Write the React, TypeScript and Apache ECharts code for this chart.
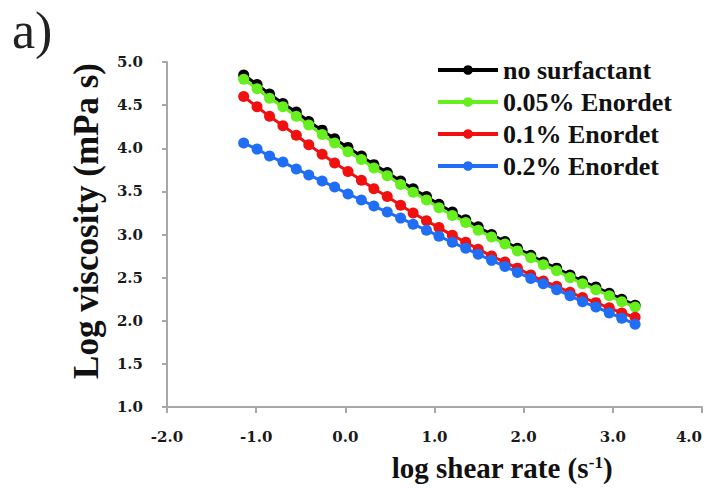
import React, { useEffect, useRef } from "react";
import * as echarts from "echarts";

const seriesNames = ["no surfactant", "0.05% Enordet", "0.1% Enordet", "0.2% Enordet"];
const seriesColors = ["#000000", "#66EE1E", "#F01010", "#1F6EF5"];

const xValues = [-1.14, -0.99, -0.85, -0.70, -0.55, -0.41, -0.26, -0.12, 0.03, 0.18, 0.32, 0.47, 0.62, 0.76, 0.91, 1.05, 1.20, 1.35, 1.49, 1.64, 1.79, 1.93, 2.08, 2.22, 2.37, 2.52, 2.66, 2.81, 2.96, 3.10, 3.25];

const noSurfactant = [4.85, 4.74, 4.63, 4.52, 4.42, 4.31, 4.21, 4.11, 4.01, 3.91, 3.81, 3.72, 3.62, 3.53, 3.44, 3.35, 3.26, 3.17, 3.09, 3.00, 2.92, 2.84, 2.76, 2.68, 2.61, 2.53, 2.46, 2.39, 2.32, 2.25, 2.18];
const enordet005 = [4.80, 4.69, 4.58, 4.48, 4.37, 4.27, 4.16, 4.06, 3.96, 3.87, 3.77, 3.68, 3.58, 3.49, 3.40, 3.31, 3.22, 3.14, 3.05, 2.97, 2.89, 2.81, 2.73, 2.65, 2.58, 2.50, 2.43, 2.36, 2.29, 2.22, 2.16];
const enordet01 = [4.60, 4.48, 4.37, 4.26, 4.15, 4.04, 3.93, 3.83, 3.73, 3.63, 3.53, 3.44, 3.34, 3.25, 3.16, 3.08, 2.99, 2.91, 2.83, 2.75, 2.68, 2.61, 2.53, 2.46, 2.40, 2.33, 2.27, 2.21, 2.15, 2.09, 2.04];
const enordet02 = [4.06, 3.99, 3.91, 3.84, 3.76, 3.69, 3.62, 3.55, 3.47, 3.40, 3.33, 3.26, 3.19, 3.12, 3.05, 2.98, 2.91, 2.84, 2.77, 2.70, 2.63, 2.56, 2.49, 2.43, 2.36, 2.29, 2.22, 2.16, 2.09, 2.03, 1.96];

const allValues = [noSurfactant, enordet005, enordet01, enordet02];

const serif = '"Liberation Serif", "Times New Roman", serif';
const tickFont = '"DejaVu Serif", serif';

export default function App() {
  const ref = useRef<HTMLDivElement>(null);
  useEffect(() => {
    if (!ref.current) return;
    const chart = echarts.init(ref.current, null, { renderer: "svg" });
    const series = seriesNames.map((name, i) => ({
      name,
      type: "line",
      data: xValues.map((x, j) => [x, allValues[i][j]]),
      symbol: "circle",
      symbolSize: 11,
      showAllSymbol: true,
      z: 2 + i,
      itemStyle: { color: seriesColors[i] },
      lineStyle: { color: seriesColors[i], width: 3 },
    }));
    chart.setOption({
      animation: false,
      backgroundColor: "#ffffff",
      grid: { left: 167, right: 8, top: 62, bottom: 81, outerBoundsMode: "none", containLabel: false },
      xAxis: {
        type: "value",
        min: -2,
        max: 4,
        interval: 1,
        axisLine: { show: true, onZero: false, lineStyle: { color: "#A8A8A8", width: 2 } },
        axisTick: { show: true, length: 6, lineStyle: { color: "#A8A8A8", width: 2 } },
        splitLine: { show: false },
        axisLabel: {
          margin: 22,
          fontFamily: tickFont,
          fontWeight: "bold",
          fontSize: 15,
          color: "#1a1a1a",
          alignMaxLabel: "right",
          formatter: (v: number) => v.toFixed(1),
        },
      },
      yAxis: {
        type: "value",
        min: 1,
        max: 5,
        interval: 0.5,
        axisLine: { show: true, onZero: false, lineStyle: { color: "#A8A8A8", width: 2 } },
        axisTick: { show: true, length: 5, lineStyle: { color: "#A8A8A8", width: 2 } },
        splitLine: { show: false },
        axisLabel: {
          margin: 24,
          fontFamily: tickFont,
          fontWeight: "bold",
          fontSize: 15,
          color: "#1a1a1a",
          formatter: (v: number) => v.toFixed(1),
        },
      },
      legend: {
        orient: "vertical",
        left: 431,
        top: 52,
        itemWidth: 60,
        itemHeight: 12,
        itemGap: 6,
        data: seriesNames,
        lineStyle: { width: 4 },
        textStyle: {
          fontFamily: serif,
          fontWeight: "bold",
          fontSize: 26,
          lineHeight: 26,
          color: "#111",
        },
      },
      graphic: [
        {
          type: "text",
          left: 12,
          top: 4,
          style: { text: "a)", font: `52px ${serif}`, fill: "#222" },
        },
        {
          type: "text",
          x: 86,
          y: 221,
          rotation: Math.PI / 2,
          style: {
            text: "Log viscosity (mPa s)",
            font: `bold 35px ${serif}`,
            fill: "#111",
            textAlign: "center",
            textVerticalAlign: "middle",
          },
        },
        {
          type: "text",
          x: 502,
          y: 468,
          style: {
            text: "{a|log shear rate (s}{b|-1}{a|)}",
            textAlign: "center",
            textVerticalAlign: "middle",
            rich: {
              a: { fontFamily: serif, fontWeight: "bold", fontSize: 29, fill: "#111", color: "#111" },
              b: { fontFamily: serif, fontWeight: "bold", fontSize: 17, fill: "#111", color: "#111", verticalAlign: "top", padding: [0, 0, 12, 0] },
            },
          },
        },
      ],
      series,
    });
    return () => chart.dispose();
  }, []);
  return <div ref={ref} style={{ position: "absolute", left: 0, top: 0, width: 710, height: 488 }} />;
}
